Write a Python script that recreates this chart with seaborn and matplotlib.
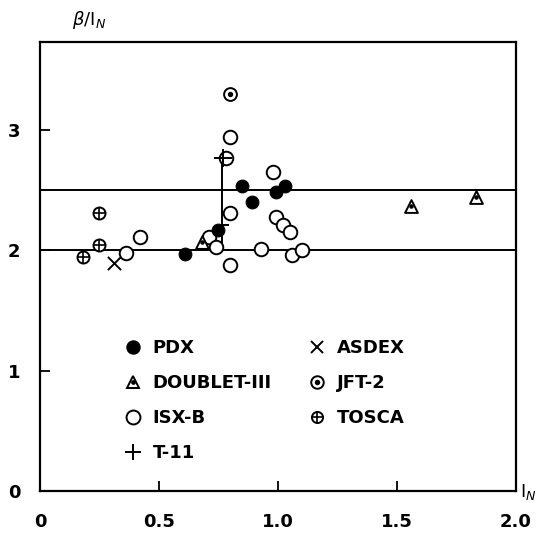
import matplotlib
matplotlib.use("Agg")
import matplotlib.pyplot as plt
from matplotlib.lines import Line2D
from matplotlib.legend_handler import HandlerTuple
import seaborn as sns

# data (x = I_N, y = beta/I_N)
pdx_x = [0.61, 0.75, 0.85, 0.89, 0.99, 1.03]
pdx_y = [1.97, 2.17, 2.53, 2.40, 2.48, 2.53]

doublet_x = [0.68, 1.56, 1.83]
doublet_y = [2.07, 2.37, 2.44]

isx_x = [0.36, 0.42, 0.71, 0.74, 0.80, 0.80, 0.78, 0.80, 0.93, 0.98, 0.99, 1.02, 1.05, 1.06, 1.10]
isx_y = [1.98, 2.11, 2.11, 2.03, 1.88, 2.31, 2.77, 2.94, 2.01, 2.65, 2.28, 2.21, 2.15, 1.96, 2.00]

t11_x = [0.77]
t11_y = [2.77]
t11_bar_x = 0.765
t11_bar = [2.0, 2.77]
t11_mid = 2.21

asdex_x = [0.31]
asdex_y = [1.89]

jft2_x = [0.80]
jft2_y = [3.30]

tosca_x = [0.18, 0.25, 0.25]
tosca_y = [1.94, 2.04, 2.31]

limit_lines = [2.0, 2.5]

sns.set_theme(style="ticks")
plt.rcParams['font.family'] = ['DejaVu Sans']
plt.rcParams['text.color'] = 'black'
plt.rcParams['xtick.color'] = 'black'
plt.rcParams['ytick.color'] = 'black'
plt.rcParams['axes.labelcolor'] = 'black'

fig = plt.figure(figsize=(5.57, 5.38), dpi=100)
ax = fig.add_axes([0.0718, 0.0874, 0.8546, 0.8346])

lw = 1.4
for yv in limit_lines:
    ax.axhline(yv, color='black', lw=lw, zorder=1)

# T-11 range bar
ax.vlines(t11_bar_x, t11_bar[0], t11_bar[1], color='black', lw=1.4, zorder=2)
ax.hlines(t11_mid, t11_bar_x, t11_bar_x + 0.03, color='black', lw=1.4, zorder=2)

open_kw = dict(facecolor='white', edgecolor='black', linewidth=1.4, zorder=3)

sns.scatterplot(x=isx_x, y=isx_y, marker='o', s=95, ax=ax, **open_kw)
sns.scatterplot(x=tosca_x, y=tosca_y, marker='o', s=75, ax=ax, **open_kw)
ax.scatter(tosca_x, tosca_y, marker='+', s=75, color='black', linewidths=1.2, zorder=4)
sns.scatterplot(x=jft2_x, y=jft2_y, marker='o', s=85, ax=ax, **open_kw)
ax.scatter(jft2_x, jft2_y, marker='o', s=8, color='black', zorder=4)
sns.scatterplot(x=doublet_x, y=doublet_y, marker='^', s=85, ax=ax, **open_kw)
ax.scatter(doublet_x, doublet_y, marker='o', s=5, color='black', zorder=4)
sns.scatterplot(x=pdx_x, y=pdx_y, marker='o', s=85, color='black', edgecolor='black', ax=ax, zorder=5)
ax.scatter(asdex_x, asdex_y, marker='x', s=90, color='black', linewidths=1.4, zorder=5)
ax.scatter(t11_x, t11_y, marker='+', s=150, color='black', linewidths=1.4, zorder=5)

ax.set_xlim(0, 2.0)
ax.set_ylim(0, 3.73)
ax.set_xticks([0, 0.5, 1.0, 1.5, 2.0])
ax.set_xticklabels(['0', '0.5', '1.0', '1.5', '2.0'], fontweight='bold')
ax.set_yticks([0, 1, 2, 3])
ax.set_yticklabels(['0', '1', '2', '3'], fontweight='bold')
ax.tick_params(direction='in', length=7, width=1.3, labelsize=13, colors='black')
ax.tick_params(axis='x', pad=16)
ax.tick_params(axis='y', pad=14)
for sp in ax.spines.values():
    sp.set_visible(True)
    sp.set_linewidth(1.6)
    sp.set_color('black')

fig.text(0.16, 0.962, r'$\beta$/I$_N$', fontsize=13, ha='center', va='center', color='black')
fig.text(0.948, 0.086, r'I$_N$', fontsize=13, ha='center', va='center', color='black')

# legend
def mk(marker, fc='white', ms=9, mew=1.4):
    return Line2D([], [], linestyle='none', marker=marker, markersize=ms,
                  markerfacecolor=fc, markeredgecolor='black', markeredgewidth=mew)

h_pdx = mk('o', fc='black', ms=9)
h_doub = (mk('^', ms=9), mk('o', fc='black', ms=2))
h_isx = mk('o', ms=10)
h_t11 = mk('+', ms=11)
h_asdex = mk('x', ms=9)
h_jft = (mk('o', ms=9), mk('o', fc='black', ms=2.5))
h_tosca = (mk('o', ms=8), mk('+', ms=8, mew=1.2))

handles = [h_pdx, h_doub, h_isx, h_t11, h_asdex, h_jft, h_tosca]
labels = ['PDX', 'DOUBLET-III', 'ISX-B', 'T-11', 'ASDEX', 'JFT-2', 'TOSCA']
leg = ax.legend(handles, labels, ncol=2, loc='upper left', bbox_to_anchor=(0.142, 0.375),
                frameon=False, prop={'size': 13, 'weight': 'bold'},
                handlelength=1.0, handletextpad=0.6,
                columnspacing=2.0, labelspacing=0.95,
                handler_map={tuple: HandlerTuple(ndivide=1, pad=0)})
for t in leg.get_texts():
    t.set_color('black')

fig.savefig('out.png', dpi=100, facecolor='white')
